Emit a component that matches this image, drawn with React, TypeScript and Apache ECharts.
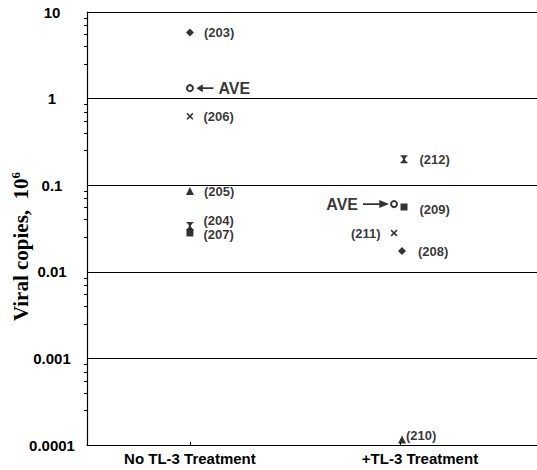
import React, { useEffect, useRef } from "react";
import * as echarts from "echarts";

// ---- data ----
const groups = ["No TL-3 Treatment", "+TL-3 Treatment"];
const sampleIds = ["203", "206", "205", "204", "207", "212", "209", "211", "208", "210"];
const sampleGroup = [0, 0, 0, 0, 0, 1, 1, 1, 1, 1];
const viralCopies = [5.8, 0.625, 0.0855, 0.0338, 0.0281, 0.2, 0.056, 0.028, 0.0174, 0.000116];
const sampleMarker = ["diamond", "cross", "triangle", "hourglass", "square", "hourglass", "square", "cross", "diamond", "triangle"];
const aveValues = [1.32, 0.0605];
const yTicks = [0.0001, 0.001, 0.01, 0.1, 1, 10];

// ---- styling (pixels / positions) ----
const groupLabelAt = [0, 1.095];
const xPixelOffset = [0, 0, 0, 0, 0, 4, 4, -6, 2, 2];
const aveXOffset = [0, -6];
const labelSide = ["right", "right", "right", "right", "right", "right", "right", "left", "right", "right"];
const labelYOffset = [0, 0, 0, -5, 2, 0, 2, 0, 1, -4];
const labelDist = [10, 10, 10, 10, 10, 12, 12, 10, 12, 0];

const CROSS = "path://M0,1.6 L1.6,0 L5,3.4 L8.4,0 L10,1.6 L6.6,5 L10,8.4 L8.4,10 L5,6.6 L1.6,10 L0,8.4 L3.4,5 Z";
const HOURGLASS = "path://M0,0 L10,0 L10,1.6 L8.4,1.6 L6.2,5 L8.4,8.4 L10,8.4 L10,10 L0,10 L0,8.4 L1.6,8.4 L3.8,5 L1.6,1.6 L0,1.6 Z";
const ARROW_LEFT = "path://M0,5 L9,0 L9,4 L24,4 L24,6 L9,6 L9,10 Z";
const ARROW_RIGHT = "path://M24,5 L15,0 L15,4 L0,4 L0,6 L15,6 L15,10 Z";

const symbolFor: Record<string, { symbol: string; size: number | number[] }> = {
  diamond: { symbol: "diamond", size: 8 },
  cross: { symbol: CROSS, size: 7 },
  triangle: { symbol: "triangle", size: 8 },
  hourglass: { symbol: HOURGLASS, size: [7, 8] },
  square: { symbol: "rect", size: 7 },
};

const SANS = "'Liberation Sans', Arial, sans-serif";
const SERIF = "'Liberation Serif', 'Times New Roman', serif";

function fmtLog(v: number) {
  const e = Math.round(Math.log10(v));
  return e >= 0 ? String(Math.pow(10, e)) : Math.pow(10, e).toFixed(-e);
}

export default function App() {
  const ref = useRef<HTMLDivElement>(null);
  useEffect(() => {
    if (!ref.current) return;
    const chart = echarts.init(ref.current, null, { renderer: "svg" });

    const points = sampleIds.map((id, i) => {
      const s = symbolFor[sampleMarker[i]];
      return {
        value: [sampleGroup[i], viralCopies[i]],
        symbol: s.symbol,
        symbolSize: s.size,
        symbolOffset: [xPixelOffset[i], 0],
        label: {
          show: true,
          position: labelSide[i],
          distance: labelDist[i],
          offset: [0, labelYOffset[i]],
          formatter: "(" + id + ")",
        },
      };
    });

    const aveCircles = aveValues.map((v, g) => ({
      value: [g, v],
      symbolOffset: [aveXOffset[g], 0],
    }));

    const aveArrows = aveValues.map((v, g) => ({
      value: [g, v],
      symbol: g === 0 ? ARROW_LEFT : ARROW_RIGHT,
      symbolSize: g === 0 ? [17, 8] : [26, 8],
      symbolOffset: g === 0 ? [15, 0] : [-24, 0],
      label: {
        show: true,
        position: g === 0 ? "right" : "left",
        distance: 5,
        formatter: "AVE",
      },
    }));

    chart.setOption({
      animation: false,
      backgroundColor: "#fff",
      grid: { left: 87, right: 0, top: 12, bottom: 25, outerBoundsMode: "none", containLabel: false },
      xAxis: {
        type: "value",
        min: -0.49,
        max: 1.652,
        splitLine: { show: false },
        axisLine: { show: true, onZero: false, lineStyle: { color: "#000", width: 1.2 } },
        axisTick: { show: true, customValues: [0, 1], inside: true, length: 3, lineStyle: { color: "#000" } },
        axisLabel: {
          customValues: groupLabelAt,
          formatter: (v: number) => groups[Math.abs(v - groupLabelAt[0]) < 0.5 ? 0 : 1],
          color: "#000",
          fontFamily: SANS,
          fontWeight: "bold",
          fontSize: 15,
          margin: 6,
        },
      },
      yAxis: {
        type: "log",
        logBase: 10,
        min: yTicks[0],
        max: yTicks[yTicks.length - 1],
        axisLine: { show: true, onZero: false, lineStyle: { color: "#000", width: 1.2 } },
        axisTick: { show: false },
        minorTick: { show: true, splitNumber: 6, length: 3, lineStyle: { color: "#000" } },
        splitLine: { show: true, lineStyle: { color: "#000", width: 1.2 } },
        axisLabel: {
          formatter: fmtLog,
          color: "#000",
          fontFamily: SANS,
          fontWeight: "bold",
          fontSize: 15,
          align: "center",
          margin: 35,
        },
        name: "Viral copies,  10{sup|6}",
        nameLocation: "middle",
        nameGap: 55,
        nameMoveOverlap: false,
        nameRotate: 90,
        nameTextStyle: {
          color: "#000",
          fontFamily: SERIF,
          fontWeight: "bold",
          fontSize: 21,
          padding: [0, 36, 0, 0],
          rich: {
            sup: {
              fontFamily: SERIF,
              fontWeight: "bold",
              fontSize: 13,
              color: "#000",
              padding: [0, 0, 10, 0],
            },
          },
        },
      },
      series: [
        {
          type: "scatter",
          data: points,
          itemStyle: { color: "#000" },
          label: { color: "#000", fontFamily: SANS, fontWeight: "bold", fontSize: 13 },
          z: 3,
        },
        {
          type: "scatter",
          data: aveCircles,
          symbol: "emptyCircle",
          symbolSize: 6,
          itemStyle: { color: "#000", borderColor: "#000", borderWidth: 1.4 },
          z: 3,
        },
        {
          type: "scatter",
          data: aveArrows,
          itemStyle: { color: "#000" },
          label: { color: "#000", fontFamily: SANS, fontWeight: "bold", fontSize: 16 },
          z: 3,
        },
      ],
    });
    return () => chart.dispose();
  }, []);
  return (
    <div
      ref={ref}
      style={{ position: "fixed", left: 0, top: 0, width: 537, height: 470, background: "#fff" }}
    />
  );
}
